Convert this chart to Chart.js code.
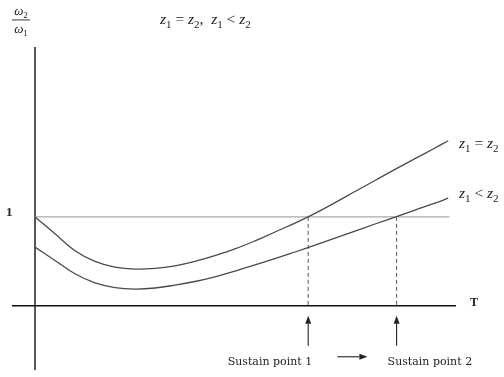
<!DOCTYPE html>
<html>
<head>
<meta charset="utf-8">
<script src="https://cdn.jsdelivr.net/npm/chart.js@4"></script>
<style>
  html, body { margin: 0; padding: 0; background: #fff; }
  #wrap { width: 504px; height: 377px; }
</style>
</head>
<body>
<div id="wrap"><canvas id="sustain"></canvas></div>
<script>
// T samples and omega ratio for both gear cases
const T = [0, 0.5, 1, 1.5, 2, 2.5, 3, 3.5, 4, 4.5, 5, 5.5, 6, 6.5, 7, 7.5, 8, 8.5, 9, 9.5, 10, 10.33];
const ratioEqual = [1.0, 0.81, 0.62, 0.5, 0.435, 0.412, 0.42, 0.45, 0.5, 0.565, 0.64, 0.73, 0.83, 0.93, 1.04, 1.16, 1.285, 1.41, 1.535, 1.655, 1.775, 1.857];
const ratioLess = [0.66, 0.51, 0.36, 0.258, 0.205, 0.188, 0.2, 0.232, 0.273, 0.325, 0.39, 0.46, 0.53, 0.605, 0.682, 0.76, 0.84, 0.92, 0.998, 1.077, 1.155, 1.21];
const unity = 1;
const sustainT = [6.83, 9.04];
const sustainLabels = ["Sustain point 1", "Sustain point 2"];

const toPts = (xs, ys) => xs.map((x, i) => ({ x: x, y: ys[i] }));

const curveStyle = {
  showLine: true,
  pointRadius: 0,
  borderWidth: 1.3,
  borderColor: "#4a4a4a",
  tension: 0.4
};

const datasets = [
  Object.assign({ label: "z1 = z2", data: toPts(T, ratioEqual) }, curveStyle),
  Object.assign({ label: "z1 < z2", data: toPts(T, ratioLess) }, curveStyle),
  {
    label: "unity",
    data: [{ x: 0, y: unity }, { x: T[T.length - 1] + 0.03, y: unity }],
    showLine: true, pointRadius: 0, borderWidth: 1.3, borderColor: "#a8a8a8"
  }
];
sustainT.forEach((t, i) => {
  datasets.push({
    label: sustainLabels[i],
    data: [{ x: t, y: unity }, { x: t, y: 0 }],
    showLine: true, pointRadius: 0, borderWidth: 1, borderColor: "#555",
    borderDash: [4, 3]
  });
});

// italic z with subscripts etc.
function drawMath(ctx, x, y, parts, size, align) {
  const fam = "'Liberation Serif', 'DejaVu Serif', serif";
  const fontOf = k => k === "i" ? "italic " + size + "px " + fam
    : k === "s" ? Math.round(size * 0.7) + "px " + fam
    : size + "px " + fam;
  let w = 0;
  parts.forEach(p => { ctx.font = fontOf(p[1]); w += ctx.measureText(p[0]).width; });
  let cx = align === "center" ? x - w / 2 : align === "right" ? x - w : x;
  ctx.textAlign = "left";
  ctx.textBaseline = "alphabetic";
  parts.forEach(p => {
    ctx.font = fontOf(p[1]);
    ctx.fillText(p[0], cx, p[1] === "s" ? y + size * 0.25 : y);
    cx += ctx.measureText(p[0]).width;
  });
}

function arrow(ctx, x1, y1, x2, y2) {
  const a = Math.atan2(y2 - y1, x2 - x1);
  const L = 8, W = 3;
  ctx.beginPath();
  ctx.moveTo(x1, y1);
  ctx.lineTo(x2 - L * Math.cos(a), y2 - L * Math.sin(a));
  ctx.stroke();
  ctx.beginPath();
  ctx.moveTo(x2, y2);
  ctx.lineTo(x2 - L * Math.cos(a) + W * Math.sin(a), y2 - L * Math.sin(a) - W * Math.cos(a));
  ctx.lineTo(x2 - L * Math.cos(a) - W * Math.sin(a), y2 - L * Math.sin(a) + W * Math.cos(a));
  ctx.closePath();
  ctx.fill();
}

const decor = {
  id: "decor",
  beforeDatasetsDraw(chart) {
    const { ctx, chartArea: ca, scales: { x, y } } = chart;
    ctx.save();
    ctx.strokeStyle = "#111";
    ctx.lineWidth = 1.4;
    ctx.beginPath();
    ctx.moveTo(ca.left, y.getPixelForValue(0));
    ctx.lineTo(ca.right, y.getPixelForValue(0));
    ctx.moveTo(x.getPixelForValue(0), ca.top - 1);
    ctx.lineTo(x.getPixelForValue(0), ca.bottom + 2);
    ctx.stroke();
    ctx.restore();
  },
  afterDatasetsDraw(chart) {
    const { ctx, chartArea: ca, scales: { x, y } } = chart;
    const y0 = y.getPixelForValue(0);
    ctx.save();
    ctx.fillStyle = "#222";
    ctx.strokeStyle = "#222";
    ctx.lineWidth = 1.1;

    // sustain arrows and labels
    sustainT.forEach((t, i) => {
      const px = x.getPixelForValue(t);
      arrow(ctx, px, y0 + 40, px, y0 + 10);
      ctx.font = "11px 'DejaVu Serif', serif";
      ctx.textBaseline = "middle";
      ctx.textAlign = i === 0 ? "right" : "left";
      ctx.fillText(sustainLabels[i], i === 0 ? px + 4 : px - 9, y0 + 56);
    });
    const mid = (x.getPixelForValue(sustainT[0]) + x.getPixelForValue(sustainT[1])) / 2;
    arrow(ctx, mid - 15, y0 + 51, mid + 15, y0 + 51);

    // axis names
    ctx.textAlign = "left";
    ctx.textBaseline = "middle";
    ctx.font = "bold 12px 'Liberation Serif', serif";
    ctx.fillText("T", ca.right + 14, y0 - 3);
    ctx.font = "bold 13px 'Liberation Serif', serif";
    ctx.fillText("1", 6, y.getPixelForValue(unity) - 4);

    // omega ratio label
    const ox = x.getPixelForValue(0) - 14;
    drawMath(ctx, ox, 15, [["\u03c9", "i"], ["2", "s"]], 13, "center");
    ctx.fillRect(ox - 9, 19.5, 18, 0.9);
    drawMath(ctx, ox, 33, [["\u03c9", "i"], ["1", "s"]], 13, "center");

    // title
    const Z = (a, b, op) => [["z", "i"], [a, "s"], [op, "r"], ["z", "i"], [b, "s"]];
    drawMath(ctx, 160, 24,
      Z("1", "2", " = ").concat([[",  ", "r"]], Z("1", "2", " < ")), 15.5, "left");

    // curve labels
    const last = T.length - 1;
    drawMath(ctx, ca.right + 3, y.getPixelForValue(ratioEqual[last]) + 7, Z("1", "2", " = "), 15.5, "left");
    drawMath(ctx, ca.right + 3, y.getPixelForValue(ratioLess[last]) + 0, Z("1", "2", " < "), 15.5, "left");
    ctx.restore();
  }
};

new Chart("sustain", {
  type: "scatter",
  data: { datasets: datasets },
  options: {
    responsive: true,
    maintainAspectRatio: false,
    animation: false,
    layout: { padding: { left: 12, right: 48, top: 48, bottom: 9 } },
    scales: {
      x: { type: "linear", min: -0.575, max: 10.525, display: false },
      y: { min: -0.7, max: 2.9, display: false }
    },
    plugins: { legend: { display: false }, title: { display: false }, tooltip: { enabled: false } }
  },
  plugins: [decor]
});
</script>
</body>
</html>
